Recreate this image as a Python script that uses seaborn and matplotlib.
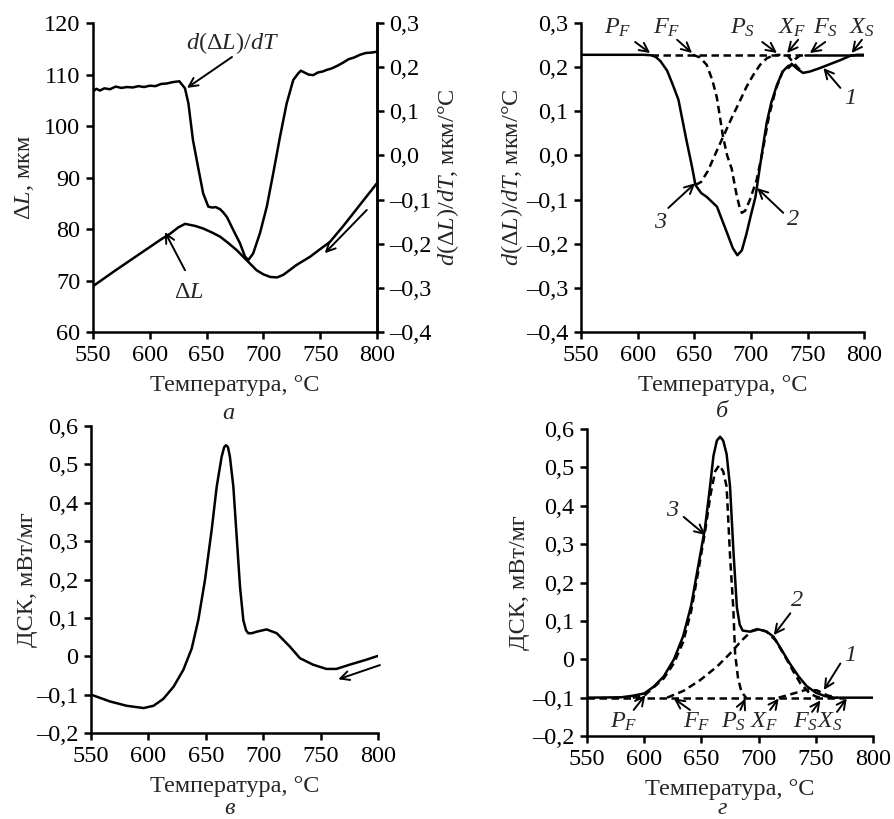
import matplotlib
matplotlib.use("Agg")
import matplotlib.pyplot as plt
import seaborn as sns

# ---------------- data ----------------
# panel a: dilatometry
a_T_dl = [550, 570, 590, 610, 618, 625, 631, 640, 647, 655, 662, 669, 676.5, 685, 694, 700, 706, 712, 717.5, 723, 729, 735, 741, 750, 758.6, 770, 780, 790, 800]
a_dl = [68.9, 72.0, 75.0, 78.0, 79.1, 80.3, 81.0, 80.6, 80.1, 79.3, 78.5, 77.3, 75.9, 74.0, 72.0, 71.2, 70.7, 70.6, 71.1, 72.0, 73.0, 73.8, 74.6, 76.1, 77.5, 80.5, 83.3, 86.1, 88.9]
a_T_der = [550, 553, 556, 560, 565, 570, 575, 580, 585, 590, 595, 600, 605, 610, 615, 620, 626, 631, 634, 638, 643, 647, 651.5, 655, 658, 662, 665, 668, 673.5, 679.4, 683.8, 686.7, 691, 697, 703, 708.7, 714.6, 720.5, 726.3, 730.7, 733, 736, 740, 744, 748, 752, 756, 760, 765, 770, 775, 780, 785, 790, 795, 800]
a_der = [0.145, 0.151, 0.147, 0.152, 0.150, 0.156, 0.153, 0.155, 0.154, 0.157, 0.155, 0.158, 0.157, 0.162, 0.163, 0.166, 0.168, 0.152, 0.118, 0.035, -0.033, -0.086, -0.116, -0.118, -0.117, -0.122, -0.13, -0.140, -0.169, -0.199, -0.229, -0.237, -0.222, -0.176, -0.116, -0.04, 0.042, 0.118, 0.171, 0.186, 0.192, 0.188, 0.183, 0.182, 0.188, 0.190, 0.194, 0.197, 0.203, 0.210, 0.218, 0.222, 0.228, 0.232, 0.233, 0.235]

# panel b: decomposition of d(dL)/dT
b_T_sum = [550, 605, 612, 616, 620, 626, 631, 636, 643, 648, 651, 656, 661, 670, 679, 684, 688, 692, 696, 700, 704, 710, 714, 718, 723, 728, 733, 737, 741, 746, 752, 761, 770, 779, 788, 794, 800]
b_sum = [0.228, 0.228, 0.227, 0.223, 0.214, 0.192, 0.16, 0.126, 0.035, -0.026, -0.067, -0.085, -0.094, -0.116, -0.176, -0.210, -0.226, -0.215, -0.178, -0.135, -0.094, 0.01, 0.075, 0.12, 0.16, 0.19, 0.203, 0.205, 0.196, 0.187, 0.19, 0.198, 0.207, 0.216, 0.226, 0.228, 0.228]
b_T_c3 = [651, 656, 662, 668, 675.4, 683, 690, 696, 702, 708, 714, 720, 726]
b_c3 = [-0.067, -0.06, -0.035, 0.0, 0.042, 0.085, 0.122, 0.155, 0.182, 0.205, 0.22, 0.227, 0.228]
b_T_c2 = [649, 655, 661, 666, 670, 675.4, 679, 683, 687, 690, 692, 695, 699, 705, 710, 716, 722, 728, 734, 739, 744]
b_c2 = [0.228, 0.222, 0.205, 0.17, 0.13, 0.042, 0.0, -0.03, -0.085, -0.118, -0.13, -0.125, -0.101, -0.056, 0.005, 0.09, 0.15, 0.19, 0.2, 0.218, 0.228]
b_T_c1 = [732, 736, 741, 746]
b_c1 = [0.228, 0.215, 0.2, 0.187]
b_T_base = [612, 748]
b_T_base_solid = [748, 800]
b_base = 0.228

# panel c: DSC
c_T = [550, 566.8, 581, 595.8, 604.5, 613, 622, 630.5, 637.7, 643.5, 649.3, 655.1, 659.5, 663.8, 666, 667.6, 669.3, 671, 674, 676.9, 679.8, 682.7, 685, 687, 690, 694.3, 703, 711.8, 717.4, 723.3, 732, 743.5, 755, 763.8, 775.3, 789.8, 800]
c_dsc = [-0.1, -0.118, -0.129, -0.135, -0.129, -0.111, -0.079, -0.035, 0.02, 0.095, 0.199, 0.329, 0.442, 0.52, 0.545, 0.55, 0.545, 0.52, 0.442, 0.312, 0.181, 0.094, 0.068, 0.06, 0.06, 0.064, 0.07, 0.06, 0.043, 0.025, -0.005, -0.022, -0.033, -0.033, -0.022, -0.009, 0.001]

# panel d: DSC decomposition
d_T_sum = [550, 580, 590, 600, 608, 617, 626, 634, 641, 647, 653, 657.5, 660.5, 663.5, 666.3, 669, 672, 675, 678, 681, 683.5, 686, 692.5, 700, 707, 713, 720, 727, 735, 742, 750, 758, 766, 800]
d_sum = [-0.1, -0.099, -0.095, -0.089, -0.072, -0.045, 0.0, 0.06, 0.14, 0.24, 0.34, 0.45, 0.53, 0.57, 0.58, 0.57, 0.535, 0.45, 0.28, 0.135, 0.09, 0.075, 0.072, 0.078, 0.072, 0.059, 0.025, -0.01, -0.045, -0.07, -0.087, -0.096, -0.1, -0.1]
d_T_c3 = [590, 600, 617, 626, 634, 641, 647, 653, 658, 662, 665.6, 669, 672, 675, 677.9, 679.4, 682, 685, 689]
d_c3 = [-0.1, -0.095, -0.05, -0.01, 0.045, 0.125, 0.225, 0.33, 0.43, 0.49, 0.506, 0.49, 0.45, 0.27, 0.13, 0.016, -0.05, -0.085, -0.1]
d_T_c2 = [620, 634.5, 649, 663.6, 675, 685.5, 694, 700, 707, 714.6, 722, 730, 736.5, 745, 751, 756]
d_c2 = [-0.1, -0.082, -0.054, -0.019, 0.015, 0.05, 0.074, 0.08, 0.072, 0.05, 0.013, -0.03, -0.063, -0.09, -0.098, -0.1]
d_T_c1 = [717.5, 730.6, 742, 751, 760, 768.5]
d_c1 = [-0.1, -0.089, -0.079, -0.081, -0.094, -0.1]
d_T_base = [550, 775]
d_base = -0.1

x_ticks = [550, 600, 650, 700, 750, 800]
a_left_ticks = [60, 70, 80, 90, 100, 110, 120]
der_ticks = [-0.4, -0.3, -0.2, -0.1, 0.0, 0.1, 0.2, 0.3]
der_labels = ["–0,4", "–0,3", "–0,2", "–0,1", "0,0", "0,1", "0,2", "0,3"]
dsc_ticks = [-0.2, -0.1, 0.0, 0.1, 0.2, 0.3, 0.4, 0.5, 0.6]
dsc_labels = ["–0,2", "–0,1", "0", "0,1", "0,2", "0,3", "0,4", "0,5", "0,6"]

# ---------------- style ----------------
sns.set_theme(style="ticks")
plt.rcParams['font.family'] = ['Liberation Serif', 'DejaVu Serif']
plt.rcParams['mathtext.fontset'] = 'custom'
plt.rcParams['mathtext.rm'] = 'Liberation Serif'
plt.rcParams['mathtext.it'] = 'Liberation Serif:italic'
plt.rcParams['mathtext.bf'] = 'Liberation Serif:bold'
plt.rcParams['axes.unicode_minus'] = False

FS = 17.5
LW = 1.8

fig = plt.figure(figsize=(8.94, 8.19), dpi=100)
ax_a = fig.add_axes([0.104, 0.5946, 0.3177, 0.3773])
ax_b = fig.add_axes([0.650, 0.5946, 0.3166, 0.3773])
ax_c = fig.add_axes([0.1018, 0.105, 0.321, 0.3748])
ax_d = fig.add_axes([0.6566, 0.1013, 0.320, 0.3748])
ax_a2 = ax_a.twinx()


def curve(ax, T, v, dashed=False):
    sns.lineplot(x=T, y=v, ax=ax, color="black", lw=LW, sort=False,
                 estimator=None, linestyle=(0, (3, 1.8)) if dashed else "-")


def arrow(ax, tail, tip):
    ax.annotate("", xy=tip, xytext=tail, annotation_clip=False,
                arrowprops=dict(arrowstyle="->", lw=1.4, color="black",
                                shrinkA=0, shrinkB=0, mutation_scale=16))


def label(ax, x, y, s, italic=False, size=FS):
    ax.text(x, y, s, ha="center", va="center", fontsize=size,
            style="italic" if italic else "normal", clip_on=False)


def style_axis(ax, right=False):
    for s in ["top", "right", "left", "bottom"]:
        ax.spines[s].set_linewidth(LW)
        ax.spines[s].set_color("black")
    ax.spines["top"].set_visible(False)
    ax.spines["right"].set_visible(right)
    ax.tick_params(direction="out", length=5, width=LW, labelsize=FS,
                   colors="black", pad=4)
    ax.set_xlim(550, 800)
    ax.set_xticks(x_ticks)
    ax.set_xticklabels([str(t) for t in x_ticks])
    ax.set_xlabel("Температура, °C", fontsize=FS)
    ax.xaxis.set_label_coords(0.5, -0.14)
    ax.grid(False)


# ---- panel a ----
curve(ax_a, a_T_dl, a_dl)
curve(ax_a2, a_T_der, a_der)
style_axis(ax_a, right=True)
ax_a.set_ylim(60, 120)
ax_a.set_yticks(a_left_ticks)
ax_a.set_yticklabels([str(t) for t in a_left_ticks])
ax_a.set_ylabel(r"$\Delta L$, мкм", fontsize=FS)
ax_a.yaxis.set_label_coords(-0.20, 0.5)
ax_a2.set_ylim(-0.4, 0.3)
ax_a2.set_yticks(der_ticks)
ax_a2.set_yticklabels(der_labels)
for s in ["top", "left", "bottom"]:
    ax_a2.spines[s].set_visible(False)
ax_a2.spines["right"].set_linewidth(LW)
ax_a2.spines["right"].set_color("black")
ax_a2.tick_params(direction="out", length=5, width=LW, labelsize=FS, colors="black", pad=4)
ax_a2.set_ylabel(r"$d(\Delta L)/dT$, мкм/°C", fontsize=FS)
ax_a2.yaxis.set_label_coords(1.205, 0.5)
ax_a2.grid(False)

label(ax_a, 673, 116.1, r"$d(\Delta L)/dT$")
arrow(ax_a, (672.4, 113.4), (632.7, 107.4))
label(ax_a, 634.5, 67.6, r"$\Delta L$")
arrow(ax_a, (631, 72), (613.4, 79.4))
arrow(ax_a, (791, 83.7), (754, 75.3))

# ---- panel b ----
curve(ax_b, b_T_base, [b_base, b_base], dashed=True)
curve(ax_b, b_T_base_solid, [b_base, b_base])
curve(ax_b, b_T_c3, b_c3, dashed=True)
curve(ax_b, b_T_c2, b_c2, dashed=True)
curve(ax_b, b_T_c1, b_c1, dashed=True)
curve(ax_b, b_T_sum, b_sum)
style_axis(ax_b)
ax_b.set_ylim(-0.4, 0.3)
ax_b.set_yticks(der_ticks)
ax_b.set_yticklabels(der_labels)
ax_b.set_ylabel(r"$d(\Delta L)/dT$, мкм/°C", fontsize=FS)
ax_b.yaxis.set_label_coords(-0.198, 0.5)

b_marks = [(r"$P_F$", (582.7, 0.289), (597.7, 0.257), (611, 0.232)),
           (r"$F_F$", (626, 0.289), (634.8, 0.262), (648, 0.232)),
           (r"$P_S$", (693, 0.289), (710, 0.257), (723, 0.232)),
           (r"$X_F$", (736.4, 0.289), (741.7, 0.262), (732, 0.232)),
           (r"$F_S$", (765.6, 0.289), (765.6, 0.257), (752, 0.232)),
           (r"$X_S$", (798, 0.289), (798, 0.262), (789, 0.232))]
for s, pos, tail, tip in b_marks:
    label(ax_b, pos[0], pos[1], s)
    arrow(ax_b, tail, tip)
label(ax_b, 787.6, 0.13, "1", italic=True)
arrow(ax_b, (779, 0.153), (764, 0.198))
label(ax_b, 620, -0.151, "3", italic=True)
arrow(ax_b, (627, -0.119), (650.7, -0.063))
label(ax_b, 737, -0.146, "2", italic=True)
arrow(ax_b, (728.5, -0.13), (705.5, -0.074))

# ---- panel c ----
curve(ax_c, c_T, c_dsc)
style_axis(ax_c)
ax_c.set_ylim(-0.2, 0.6)
ax_c.set_yticks(dsc_ticks)
ax_c.set_yticklabels(dsc_labels)
ax_c.set_ylabel("ДСК, мВт/мг", fontsize=FS)
ax_c.yaxis.set_label_coords(-0.185, 0.5)
ax_c.xaxis.set_label_coords(0.5, -0.14)
arrow(ax_c, (801.7, -0.023), (765.4, -0.06))

# ---- panel d ----
curve(ax_d, d_T_base, [d_base, d_base], dashed=True)
curve(ax_d, d_T_c3, d_c3, dashed=True)
curve(ax_d, d_T_c2, d_c2, dashed=True)
curve(ax_d, d_T_c1, d_c1, dashed=True)
curve(ax_d, d_T_sum, d_sum)
style_axis(ax_d)
ax_d.set_ylim(-0.2, 0.6)
ax_d.set_yticks(dsc_ticks)
ax_d.set_yticklabels(dsc_labels)
ax_d.set_ylabel("ДСК, мВт/мг", fontsize=FS)
ax_d.yaxis.set_label_coords(-0.199, 0.5)
ax_d.xaxis.set_label_coords(0.5, -0.14)

d_marks = [(r"$P_F$", (582, -0.163), (590.8, -0.132), (601, -0.093)),
           (r"$F_F$", (646, -0.163), (640, -0.132), (625.8, -0.102)),
           (r"$P_S$", (678, -0.163), (684, -0.132), (688.4, -0.102)),
           (r"$X_F$", (704.4, -0.163), (710, -0.132), (717.5, -0.102)),
           (r"$F_S$", (741, -0.163), (746.7, -0.137), (754, -0.107)),
           (r"$X_S$", (762.7, -0.163), (768.5, -0.137), (777, -0.102))]
for s, pos, tail, tip in d_marks:
    label(ax_d, pos[0], pos[1], s)
    arrow(ax_d, tail, tip)
label(ax_d, 624.3, 0.389, "3", italic=True)
arrow(ax_d, (634.5, 0.371), (653.4, 0.324))
label(ax_d, 733.6, 0.154, "2", italic=True)
arrow(ax_d, (727.7, 0.12), (713.2, 0.063))
label(ax_d, 780, 0.011, "1", italic=True)
arrow(ax_d, (771.4, -0.011), (757, -0.08))

# sub-figure letters
fig.text(0.255, 0.4957, "а", ha="center", va="center", fontsize=FS, style="italic")
fig.text(0.8076, 0.497, "б", ha="center", va="center", fontsize=FS, style="italic")
fig.text(0.257, 0.0125, "в", ha="center", va="center", fontsize=FS, style="italic")
fig.text(0.8076, 0.0125, "г", ha="center", va="center", fontsize=FS, style="italic")

fig.savefig("out.png", dpi=100, facecolor="white")
